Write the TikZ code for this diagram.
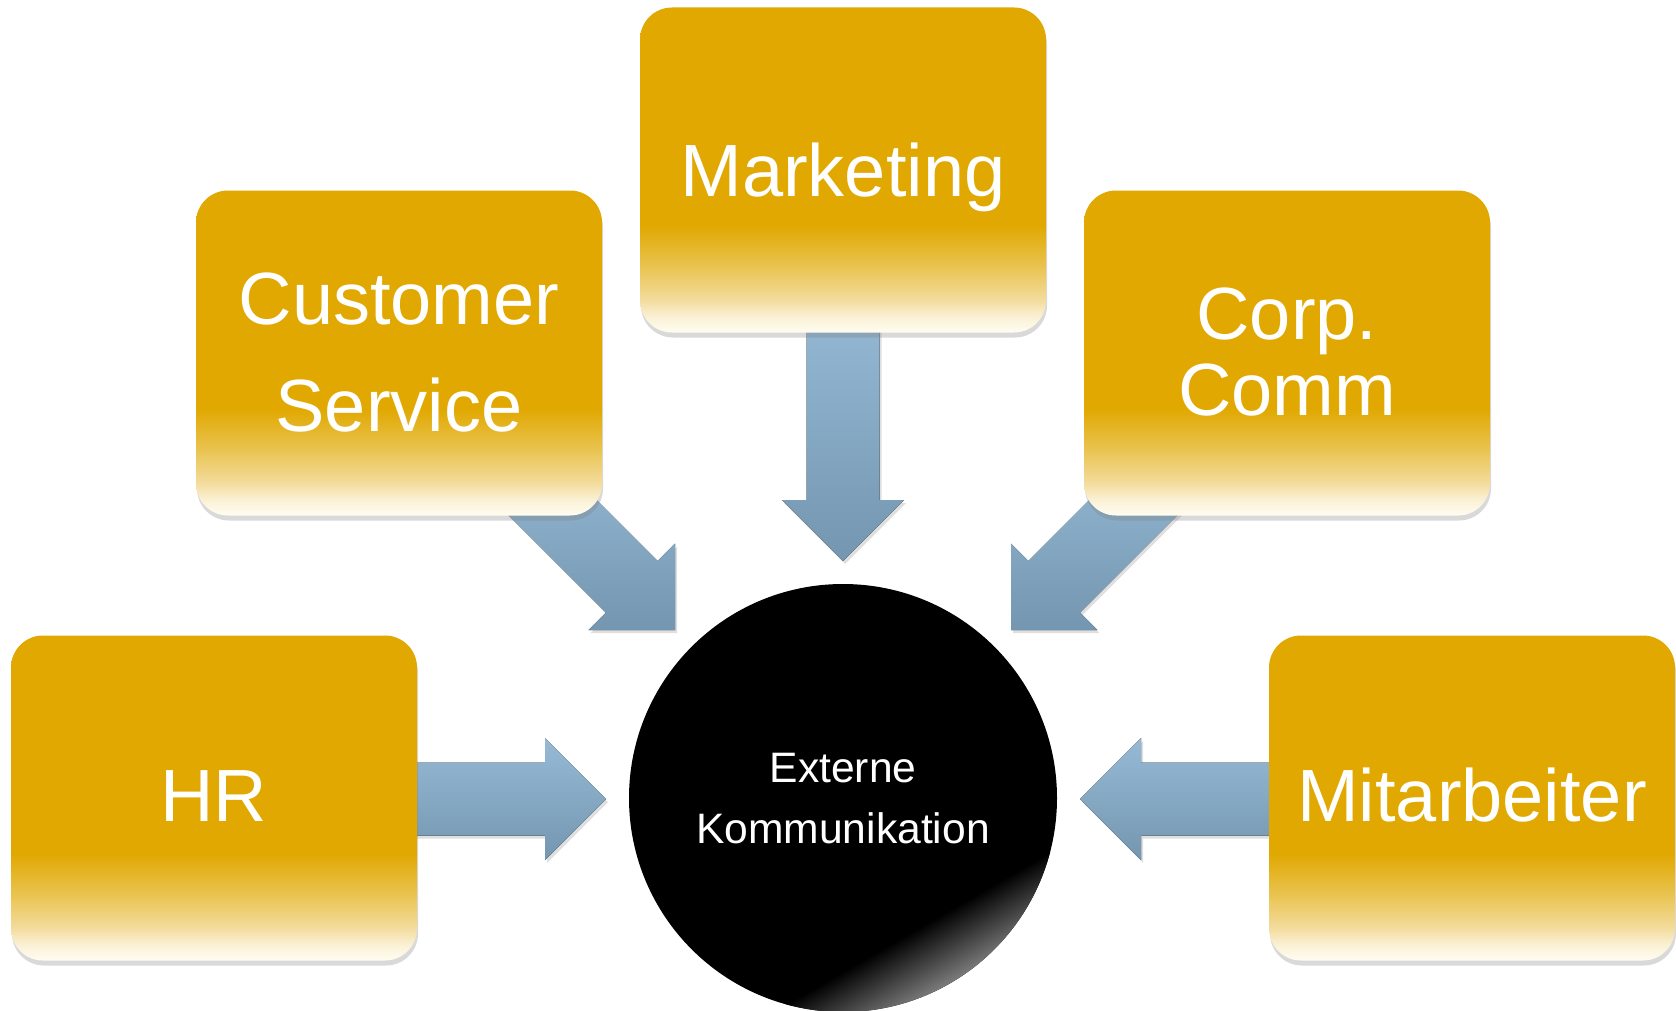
\documentclass[tikz,border=0pt]{standalone}
\usepackage{fontspec}
\setmainfont{Liberation Sans}
\usetikzlibrary{shadows}
\definecolor{gold}{RGB}{224,168,0}
\definecolor{fadeA}{RGB}{255,253,242}
\definecolor{fadeB}{RGB}{250,240,212}
\definecolor{fadeC}{RGB}{243,220,157}
\definecolor{fadeD}{RGB}{234,196,82}
\definecolor{arrowtop}{RGB}{150,186,214}
\definecolor{arrowbot}{RGB}{116,150,176}
\pgfdeclareverticalshading{boxfade}{100bp}{color(0bp)=(fadeA); color(25bp)=(fadeA); color(27.5bp)=(fadeB); color(30bp)=(fadeC); color(35bp)=(fadeD); color(41.5bp)=(gold); color(100bp)=(gold)}
\newcommand{\blockarrow}[3]{\fill[arrowshade, shift={(#1)}, rotate=#2] (0,0) -- (-61,-61) -- (-61,-36.5) -- (-#3,-36.5) -- (-#3,36.5) -- (-61,36.5) -- (-61,61) -- cycle;}
\begin{document}
\begin{tikzpicture}[x=0.5pt, y=-0.5pt,
    box/.style={rectangle, rounded corners=16pt, minimum width=203pt, minimum height=162.5pt, inner sep=0, shade, shading=boxfade, drop shadow={shadow xshift=0.5pt, shadow yshift=-2.5pt, opacity=0.3}},
    arrowshade/.style={top color=arrowtop, bottom color=arrowbot, drop shadow={shadow xshift=1pt, shadow yshift=-1.5pt, opacity=0.25}},
    lbl/.style={text=white, font=\fontsize{37}{44}\selectfont, inner sep=0, anchor=base},
    small/.style={text=white, font=\fontsize{21.3}{26}\selectfont, inner sep=0, anchor=base}]
    \useasboundingbox (0,0) rectangle (1676,1011);

    \coordinate (hr-tip) at (606,799);
    \coordinate (mkt-tip) at (843,561);
    \coordinate (mit-tip) at (1080,799);
    \coordinate (cs-tip) at (675,630);
    \coordinate (cc-tip) at (1011,630);

    \blockarrow{hr-tip}{0}{226}
    \blockarrow{mkt-tip}{-90}{261}
    \blockarrow{mit-tip}{180}{220}
    \blockarrow{cs-tip}{-45}{230}
    \blockarrow{cc-tip}{-135}{230}

    \node[box] (mkt) at (843,170) {};
    \node[box] (cs) at (399,353) {};
    \node[box] (cc) at (1287,353) {};
    \node[box] (hr) at (214,798) {};
    \node[box] (mit) at (1472,798) {};

    \node[circle, fill=black, minimum size=214pt, inner sep=0] (ext) at (843,798) {};
    \begin{scope}[transform canvas={shift={(ext.center)}, rotate=30}]
        \clip (0,0) circle (214);
        \shade[top color=black, bottom color=black!50] (-230,150) rectangle (230,216);
    \end{scope}

    \node[lbl] (mkt-t) at (843,196) {Marketing};
    \node[lbl] (cs-t1) at (399,324) {Customer};
    \node[lbl] (cs-t2) at (399,431) {Service};
    \node[lbl] (cc-t1) at (1287,339) {Corp.};
    \node[lbl] (cc-t2) at (1287,415) {Comm};
    \node[lbl] (hr-t) at (214,821) {HR};
    \node[lbl] (mit-t) at (1472,821) {Mitarbeiter};
    \node[small] (ext-t1) at (843,782) {Externe};
    \node[small] (ext-t2) at (843,843) {Kommunikation};
\end{tikzpicture}
\end{document}
